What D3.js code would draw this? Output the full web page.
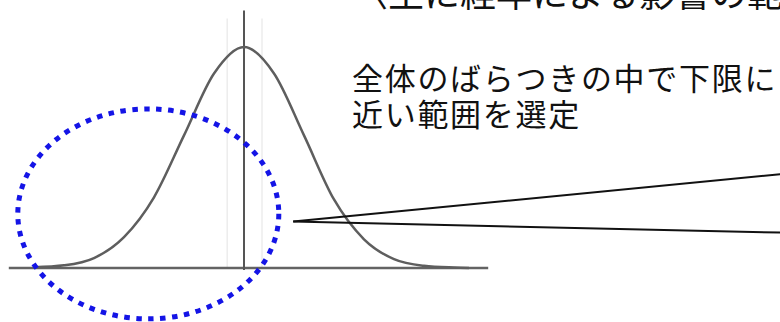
<!DOCTYPE html>
<html>
<head>
<meta charset="utf-8">
<script src="https://cdn.jsdelivr.net/npm/d3@7"></script>
<style>
  html, body { margin: 0; padding: 0; background: #fff; }
  text { font-family: "Noto Sans CJK JP", "Noto Sans", sans-serif; fill: #111; }
</style>
</head>
<body>
<div id="chart"></div>
<script>
// 分布曲線 (σ単位) と相対高さ — 図から読み取り
const curveX = [-3.5, -3, -2.5, -2, -1.5, -1, -0.5, 0, 0.5, 1, 1.5, 2, 2.5, 3, 3.5, 3.75];
const curveY = [0.003, 0.012, 0.045, 0.14, 0.32, 0.6, 0.88, 1, 0.88, 0.6, 0.31, 0.13, 0.04, 0.01, 0.002, 0];

// 軸の範囲
const axisX = [-3.92, 4.07];
const axisY = [0, 1.165];

// 選定範囲 (楕円) : x範囲, y範囲
const selX = [-3.77, 0.58];
const selY = [-0.23, 0.72];

// 吹き出し: 頂点と右端の2点
const calloutTip = [0.82, 0.21];
const calloutEnds = [[8.95, 0.425], [8.95, 0.16]];

const titleText = "〈主に経年による影響の範囲〉";
const noteLines = ["全体のばらつきの中で下限に", "近い範囲を選定"];

const W = 780, H = 322;
const svg = d3.select("#chart").append("svg").attr("width", W).attr("height", H);

const x = d3.scaleLinear().domain([0, 1]).range([244, 304]);
const y = d3.scaleLinear().domain([0, 1]).range([268, 47]);

// 薄い補助線
[-0.28, 0.3].forEach(v => {
    svg.append("line")
        .attr("x1", x(v)).attr("x2", x(v))
        .attr("y1", y(axisY[1]) + 8).attr("y2", y(0))
        .attr("stroke", "#ededed").attr("stroke-width", 1.5);
});

// 横軸
svg.append("line")
    .attr("x1", x(axisX[0])).attr("x2", x(axisX[1]))
    .attr("y1", y(0)).attr("y2", y(0))
    .attr("stroke", "#636363").attr("stroke-width", 2.5);

// 縦線 (中心)
svg.append("line")
    .attr("x1", x(0)).attr("x2", x(0))
    .attr("y1", y(axisY[1])).attr("y2", y(0) + 2)
    .attr("stroke", "#555").attr("stroke-width", 2);

// 分布曲線
const pts = curveX.map((v, i) => [v, curveY[i]]);
const line = d3.line().x(d => x(d[0])).y(d => y(d[1])).curve(d3.curveMonotoneX);
svg.append("path")
    .datum(pts)
    .attr("d", line)
    .attr("fill", "none")
    .attr("stroke", "#5e5e5e")
    .attr("stroke-width", 2.5);

// 選定範囲の楕円 (点線)
svg.append("ellipse")
    .attr("cx", (x(selX[0]) + x(selX[1])) / 2)
    .attr("cy", (y(selY[0]) + y(selY[1])) / 2)
    .attr("rx", (x(selX[1]) - x(selX[0])) / 2)
    .attr("ry", (y(selY[0]) - y(selY[1])) / 2)
    .attr("fill", "none")
    .attr("stroke", "#1414e6")
    .attr("stroke-width", 5)
    .attr("stroke-dasharray", "5.5,6.5");

// 吹き出し線
calloutEnds.forEach(e => {
    svg.append("line")
        .attr("x1", x(calloutTip[0])).attr("y1", y(calloutTip[1]))
        .attr("x2", x(e[0])).attr("y2", y(e[1]))
        .attr("stroke", "#111").attr("stroke-width", 2);
});

// テキスト
svg.append("text")
    .attr("x", 352).attr("y", 7)
    .style("font-size", "36px")
    .text(titleText);

svg.selectAll(".note").data(noteLines).enter().append("text")
    .attr("class", "note")
    .attr("x", 352)
    .attr("y", (d, i) => 90 + i * 36)
    .style("font-size", "31px")
    .style("letter-spacing", "1.7px")
    .text(d => d);
</script>
</body>
</html>
